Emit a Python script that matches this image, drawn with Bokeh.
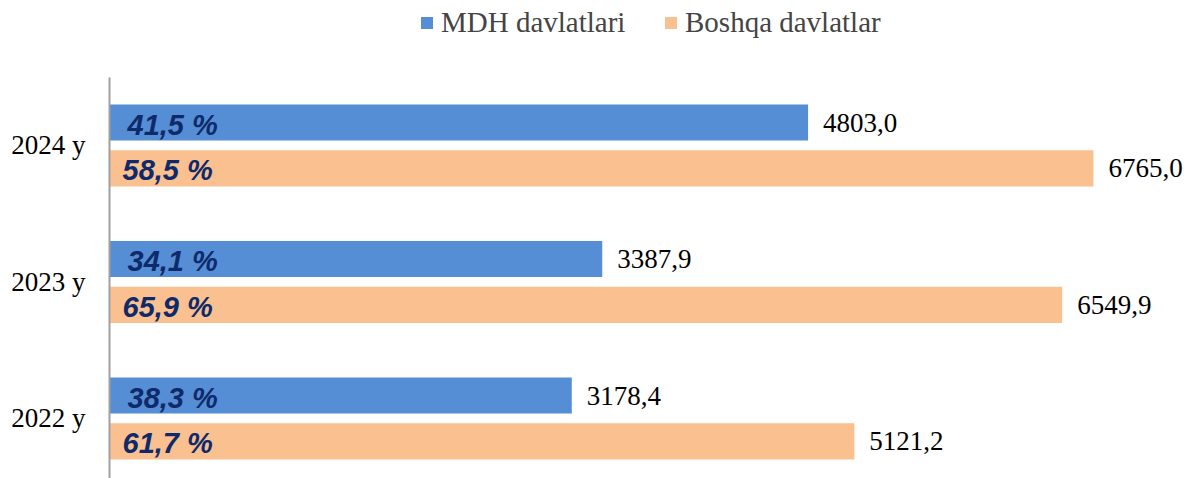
from bokeh.plotting import figure
from bokeh.models import ColumnDataSource, Range1d, Legend, LegendItem, FixedTicker
from bokeh.embed import file_html
from bokeh.resources import INLINE
from bokeh.core.properties import value

years = ["2022 y", "2023 y", "2024 y"]
mdh = [3178.4, 3387.9, 4803.0]
other = [5121.2, 6549.9, 6765.0]
mdh_pct = ["38,3 %", "34,1 %", "41,5 %"]
other_pct = ["61,7 %", "65,9 %", "58,5 %"]

BLUE = "#558ED5"
ORANGE = "#FAC090"
NAVY = "#0E2A6A"
SERIF = "Liberation Serif"

pos = [0.5, 1.5, 2.5]
dodge = 0.168
bar_h = 0.265

def fmt(v):
    return f"{v:.1f}".replace(".", ",")

src_m = ColumnDataSource(dict(y=[p_ + dodge for p_ in pos], v=mdh, zero=[0]*3,
                              lab=[fmt(v) for v in mdh], pct=mdh_pct))
src_o = ColumnDataSource(dict(y=[p_ - dodge for p_ in pos], v=other, zero=[0]*3,
                              lab=[fmt(v) for v in other], pct=other_pct))

p = figure(width=1184, height=478, output_backend="svg", toolbar_location=None,
           x_range=Range1d(0, 7391), y_range=Range1d(0.06, 3.562),
           min_border_left=109, min_border_right=0, min_border_top=0, min_border_bottom=0)
p.outline_line_color = None
p.xgrid.visible = False
p.ygrid.visible = False
p.xaxis.visible = False

r_m = p.hbar(y="y", right="v", left=0, height=bar_h, source=src_m, fill_color=BLUE, line_color=None)
r_o = p.hbar(y="y", right="v", left=0, height=bar_h, source=src_o, fill_color=ORANGE, line_color=None)

for src in (src_m, src_o):
    p.text(x="v", y="y", text="lab", source=src, x_offset=15, text_align="left",
           text_baseline="middle", text_font=value(SERIF), text_font_size="27px", text_color="#000000")

p.text(x="zero", y="y", text="pct", source=src_m, x_offset=18, y_offset=2, text_align="left",
       text_baseline="middle", text_font=value("Liberation Sans"), text_font_style="bold italic",
       text_font_size="29px", text_color=NAVY)
p.text(x="zero", y="y", text="pct", source=src_o, x_offset=13, y_offset=2, text_align="left",
       text_baseline="middle", text_font=value("Liberation Sans"), text_font_style="bold italic",
       text_font_size="29px", text_color=NAVY)

ax = p.yaxis[0]
ax.ticker = FixedTicker(ticks=pos)
ax.bounds = (0.06, 3.0)
ax.major_label_overrides = {pos[i]: years[i] for i in range(3)}
ax.major_tick_line_color = None
ax.minor_tick_line_color = None
ax.major_tick_out = 0
ax.major_tick_in = 0
ax.major_label_standoff = 24
ax.axis_line_color = "#A0A0A0"
ax.axis_line_width = 2
ax.major_label_text_font = SERIF
ax.major_label_text_font_size = "27px"
ax.major_label_text_color = "#000000"

legend = Legend(items=[LegendItem(label="MDH davlatlari", renderers=[r_m]),
                       LegendItem(label="Boshqa davlatlar", renderers=[r_o])],
                location=(310, 439), orientation="horizontal",
                padding=0, margin=0, spacing=34, label_standoff=7,
                glyph_width=15, glyph_height=15, label_width=188,
                label_text_font=SERIF, label_text_font_size="29px",
                border_line_color=None, background_fill_alpha=0)
p.add_layout(legend, "center")

open("out.html", "w").write(file_html(p, INLINE))
